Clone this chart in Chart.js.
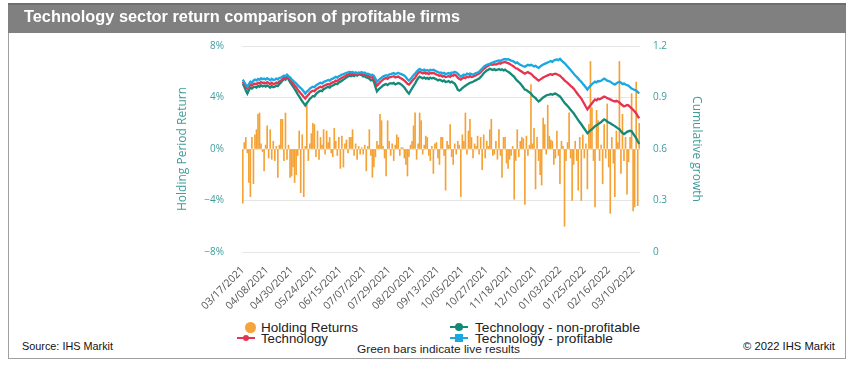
<!DOCTYPE html>
<html>
<head>
<meta charset="utf-8">
<script src="https://cdn.jsdelivr.net/npm/chart.js@4.4.1/dist/chart.umd.min.js"></script>
<style>
  body { margin: 0; width: 849px; height: 369px; background: #fff; position: relative; overflow: hidden;
         font-family: "Liberation Sans", Arial, sans-serif; }
  #frame { position: absolute; left: 8px; top: 3px; width: 838px; height: 356px; border: 1px solid #a0a0a0; box-sizing: border-box; }
  #head { position: absolute; left: 8px; top: 3px; width: 838px; height: 30px; background: #808080; border-top: 2px solid #6e6e6e; box-sizing: border-box; }
  .txt { position: absolute; white-space: nowrap; transform-origin: 0 50%; }
  #title { left: 24px; top: 8px; color: #fff; font: bold 16px/18px "Liberation Sans Narrow", "Liberation Sans", sans-serif; }
  #source { left: 22px; top: 340px; font: 11px/12px "Liberation Sans Narrow", "Liberation Sans", sans-serif; color: #111; }
  #copy { left: 743px; top: 340px; font: 11px/12px "Liberation Sans Narrow", "Liberation Sans", sans-serif; color: #111; }
  .leg { font: 13px/13px "Liberation Sans", Arial, sans-serif; color: #222; }
  #note { left: 357px; top: 343px; font: 11px/12px "Liberation Sans", Arial, sans-serif; color: #222; }
  .mk { position: absolute; }
  #wrap { position: absolute; left: 160px; top: 22px; width: 560px; height: 298px; }
</style>
</head>
<body>
<div id="frame"></div>
<div id="head"></div>

<div id="wrap"><canvas id="chart" width="560" height="298"></canvas></div>
<div class="txt" id="title" data-w="436">Technology sector return comparison of profitable firms</div>

<!-- legend -->
<div class="mk" style="left:245px;top:322px;width:11px;height:11px;border-radius:50%;background:#f5a33c"></div>
<div class="txt leg" style="left:261px;top:321px" data-w="97">Holding Returns</div>
<div class="mk" style="left:237px;top:337px;width:18px;height:2px;background:#e6334f"></div>
<div class="mk" style="left:243px;top:335px;width:6px;height:6px;border-radius:50%;background:#e6334f"></div>
<div class="txt leg" style="left:261px;top:332px" data-w="67">Technology</div>
<div class="mk" style="left:450px;top:326px;width:18px;height:2px;background:#138a78"></div>
<div class="mk" style="left:455px;top:323px;width:8px;height:8px;border-radius:50%;background:#138a78"></div>
<div class="txt leg" style="left:475px;top:321px" data-w="165">Technology - non-profitable</div>
<div class="mk" style="left:450px;top:337px;width:18px;height:2px;background:#1ba7e0"></div>
<div class="mk" style="left:455px;top:334px;width:8px;height:8px;background:#1ba7e0"></div>
<div class="txt leg" style="left:475px;top:332px" data-w="138">Technology - profitable</div>
<div class="txt" id="note" data-w="163">Green bars indicate live results</div>

<div class="txt" id="source" data-w="91">Source: IHS Markit</div>
<div class="txt" id="copy" data-w="92">© 2022 IHS Markit</div>

<script>
// x axis: trading days from 03/17/2021, a tick label every 16 days
const startDate = new Date(2021, 2, 17);
const dayCount = 261;
const tickLabels = ['03/17/2021', '04/08/2021', '04/30/2021', '05/24/2021', '06/15/2021', '07/07/2021',
  '07/29/2021', '08/20/2021', '09/13/2021', '10/05/2021', '10/27/2021', '11/18/2021', '12/10/2021',
  '01/03/2022', '01/25/2022', '02/16/2022', '03/10/2022'];
const tickEvery = 16;

// daily holding period return, %
const holdingReturns = [
  -4.2, 0.5, 0.9, -0.3, -2.6, -3.7, 0.9, -2.7, 1.1, 1.5, 2.7, 2.8, 0.4, -0.2, -1.7, 0.3, 1.8, -0.7, 1.5, -0.8,
  0.6, -0.9, 0.2, -2.2, 0.3, 2.3, 2.3, -0.9, 2.8, -0.8, 0.3, -2.2, -2.1, -1.4, -2.6, -2.0, -0.5, 1.4, -3.4, 1.1,
  -3.7, 0.2, 3.6, -0.9, 0.4, 1.2, 2.0, 1.9, -0.6, 1.4, -0.8, 0.9, 0.3, 1.5, -0.4, 1.4, 0.5, 0.9, -0.3, -0.6,
  1.6, 0.6, -0.5, 0.9, -1.5, 1.0, -1.4, 0.4, 0.7, -0.3, 0.9, 0.9, 1.5, -0.5, 0.4, -0.8, 0.2, -0.4, 0.1, -0.4,
  0.3, -1.7, 0.2, 1.5, -0.5, -2.2, -1.4, -0.6, 0.6, 0.3, 2.7, 2.2, 0.2, -0.7, -2.1, 2.2, 0.6, -0.5, 0.4, -0.9,
  0.3, 1.1, 0.9, -0.5, 0.1, 0.1, -0.7, -1.2, -2.1, -0.6, 0.3, 0.6, 1.8, 2.8, -0.8, 0.4, 2.8, 2.2, -0.4, 0.3,
  1.0, 0.9, -0.5, -0.9, 0.2, -1.9, 0.4, 0.5, -0.7, -1.2, 0.9, 0.9, -0.5, -3.2, 0.6, 0.3, 1.9, -0.6, -1.2, 0.4,
  -0.4, 0.6, 0.3, -3.7, 1.1, 0.6, 2.8, -0.4, 1.4, 2.3, 0.9, -0.7, 0.4, 0.2, 1.0, -0.4, 0.9, -1.6, 1.1, -0.7,
  0.6, 0.2, 1.5, 2.3, -0.5, -0.4, 0.6, -0.8, 1.5, -0.5, -2.2, 0.9, 0.9, -1.1, -1.5, -0.8, -0.5, 0.2, -3.9, -0.9,
  1.5, -0.6, 0.6, 0.9, 0.8, -4.3, 1.0, -0.5, 0.3, 5.0, 0.4, 1.6, -3.1, 0.9, -0.9, -2.0, -2.8, 2.4, 1.9, -0.4,
  3.4, 1.0, 0.7, 0.6, -1.2, -0.7, 1.4, -0.5, -2.7, 0.6, 0.2, -6.0, -0.9, 0.5, 2.8, -0.7, -4.0, -1.2, 0.6, -0.9,
  -3.2, 0.9, -4.0, 1.1, -0.7, 0.4, -3.1, 1.9, 6.8, 3.2, -0.9, -4.5, 3.0, 2.2, -0.9, 0.3, -2.7, 1.9, -0.7, 3.5,
  -1.4, -5.0, 0.9, -1.1, -3.7, 1.4, 0.5, 6.8, -1.9, 2.7, -0.9, 0.9, -3.5, -1.0, 0.9, 4.3, -4.8, -4.5, 5.2, -4.4,
  2.0
];

// cumulative growth, technology sector (all firms)
const techAll = [
  0.992, 0.978, 0.962, 0.952, 0.965, 0.975, 0.970, 0.978, 0.981, 0.978, 0.986, 0.981, 0.990, 0.984, 0.987,
  0.982, 0.989, 0.984, 0.977, 0.986, 0.979, 0.981, 0.987, 0.984, 0.993, 0.998, 1.008, 1.016, 1.012, 1.027,
  1.014, 1.004, 0.992, 0.981, 0.970, 0.960, 0.946, 0.935, 0.924, 0.914, 0.903, 0.894, 0.906, 0.915, 0.928, 0.935,
  0.940, 0.937, 0.947, 0.953, 0.958, 0.963, 0.959, 0.967, 0.971, 0.975, 0.979, 0.975, 0.984, 0.988, 0.992,
  0.998, 0.994, 1.004, 1.009, 1.015, 1.019, 1.024, 1.030, 1.034, 1.039,
  1.035, 1.040, 1.034, 1.039, 1.033, 1.040, 1.039, 1.042, 1.034, 1.036, 1.029, 1.027,
  1.022, 1.016, 1.019, 1.010, 0.990, 0.969, 0.978, 0.988, 0.996, 1.004, 1.010,
  1.014, 1.009, 1.017, 1.019, 1.021, 1.024, 1.017, 1.020, 1.022, 1.015, 1.011, 1.005, 0.998,
  0.990, 0.980, 0.975, 0.985, 0.996, 1.006, 1.015, 1.030, 1.042, 1.050,
  1.045, 1.040, 1.046, 1.039, 1.043, 1.037, 1.044, 1.040, 1.044, 1.039, 1.034, 1.030, 1.027,
  1.029, 1.022, 1.026, 1.019, 1.021, 1.025, 1.020, 1.029, 1.027, 1.033, 1.027, 1.015, 1.008, 1.004,
  1.011, 1.017, 1.013, 1.021, 1.018, 1.024, 1.019, 1.021, 1.026, 1.030, 1.035, 1.039,
  1.048, 1.057, 1.066, 1.073, 1.080, 1.085, 1.091, 1.093, 1.090, 1.094, 1.092, 1.096,
  1.100, 1.097, 1.103, 1.105, 1.108, 1.103, 1.100, 1.096, 1.090, 1.085, 1.079,
  1.070, 1.068, 1.062, 1.056, 1.050, 1.044, 1.039, 1.044, 1.048, 1.042, 1.039,
  1.030, 1.020, 1.014, 1.005, 0.998, 1.004, 1.010, 1.016, 1.021, 1.025, 1.029, 1.033,
  1.036, 1.032, 1.037, 1.039, 1.035, 1.031, 1.027, 1.018, 1.010, 1.000, 0.992,
  0.985, 0.977, 0.968, 0.960, 0.952, 0.940, 0.928, 0.916, 0.905, 0.894,
  0.878, 0.862, 0.846, 0.831, 0.843, 0.855, 0.866, 0.878, 0.889,
  0.884, 0.892, 0.890, 0.894, 0.900, 0.906, 0.902, 0.896, 0.893, 0.889,
  0.884, 0.880, 0.877, 0.881, 0.876, 0.871, 0.862, 0.855, 0.848, 0.852, 0.856, 0.854,
  0.845, 0.837, 0.828, 0.818, 0.808, 0.792, 0.779
];

// cumulative growth, non-profitable technology firms
const techNonProfitable = [
  0.981, 0.962, 0.940, 0.923, 0.942, 0.958, 0.952, 0.960, 0.963, 0.958, 0.967, 0.962, 0.971, 0.965, 0.969,
  0.963, 0.970, 0.965, 0.957, 0.967, 0.960, 0.963, 0.970, 0.966, 0.978, 0.987, 0.998, 1.008, 1.004, 1.021,
  1.005, 0.990, 0.976, 0.963, 0.950, 0.936, 0.920, 0.906, 0.892, 0.878, 0.866, 0.854, 0.868, 0.879, 0.892, 0.900,
  0.909, 0.906, 0.920, 0.928, 0.935, 0.940, 0.937, 0.948, 0.953, 0.958, 0.962, 0.958, 0.966, 0.970, 0.975,
  0.980, 0.977, 0.987, 0.992, 0.998, 1.004, 1.010, 1.017, 1.022, 1.027,
  1.024, 1.030, 1.025, 1.032, 1.027, 1.034, 1.033, 1.030, 1.022, 1.025, 1.017, 1.015,
  1.009, 1.000, 1.004, 0.992, 0.962, 0.935, 0.946, 0.955, 0.962, 0.970, 0.975,
  0.978, 0.972, 0.980, 0.983, 0.981, 0.985, 0.976, 0.980, 0.984, 0.981, 0.975, 0.967, 0.958,
  0.945, 0.932, 0.923, 0.938, 0.953, 0.968, 0.981, 0.998, 1.012, 1.021,
  1.016, 1.011, 1.017, 1.010, 1.014, 1.008, 1.016, 1.011, 1.015, 1.010, 1.006, 1.000, 1.004,
  1.000, 0.994, 0.999, 0.990, 0.992, 0.996, 0.988, 0.993, 0.986, 0.981, 0.965, 0.946, 0.940, 0.946,
  0.955, 0.962, 0.968, 0.975, 0.980, 0.986, 0.988, 0.992, 0.997, 1.001, 1.006, 1.010,
  1.020, 1.030, 1.041, 1.050, 1.057, 1.062, 1.067, 1.064, 1.060, 1.065, 1.059, 1.062,
  1.066, 1.060, 1.064, 1.058, 1.062, 1.055, 1.050, 1.044, 1.036, 1.028, 1.021,
  1.008, 0.998, 0.990, 0.981, 0.970, 0.958, 0.946, 0.944, 0.936, 0.930, 0.923,
  0.912, 0.903, 0.896, 0.885, 0.877, 0.884, 0.892, 0.900, 0.906, 0.912, 0.916, 0.917,
  0.920, 0.916, 0.921, 0.923, 0.918, 0.912, 0.906, 0.895, 0.882, 0.870, 0.860,
  0.850, 0.840, 0.829, 0.818, 0.808, 0.795, 0.781, 0.768, 0.756, 0.744,
  0.731, 0.718, 0.705, 0.692, 0.700, 0.708, 0.715, 0.724, 0.733,
  0.738, 0.745, 0.750, 0.756, 0.765, 0.773, 0.768, 0.760, 0.755, 0.750,
  0.744, 0.739, 0.733, 0.727, 0.720, 0.715, 0.704, 0.694, 0.687, 0.693, 0.700, 0.704,
  0.706, 0.704, 0.690, 0.676, 0.663, 0.645, 0.629
];

// cumulative growth, profitable technology firms
const techProfitable = [
  1.004, 0.990, 0.975, 0.963, 0.978, 0.992, 0.985, 0.998, 1.004, 1.000, 1.008, 1.003, 1.012, 1.006, 1.010,
  1.004, 1.012, 1.007, 1.000, 1.009, 1.002, 1.004, 1.010, 1.006, 1.014, 1.015, 1.022, 1.028, 1.024, 1.033,
  1.025, 1.018, 1.006, 0.998, 0.990, 0.982, 0.972, 0.963, 0.955, 0.946, 0.935, 0.923, 0.934, 0.941, 0.952, 0.958,
  0.963, 0.960, 0.970, 0.976, 0.981, 0.986, 0.982, 0.990, 0.994, 0.998, 1.002, 0.998, 1.006, 1.010, 1.015,
  1.020, 1.016, 1.024, 1.028, 1.033, 1.036, 1.040, 1.044, 1.046, 1.050,
  1.046, 1.049, 1.043, 1.047, 1.041, 1.046, 1.044, 1.048, 1.042, 1.045, 1.038, 1.039,
  1.035, 1.030, 1.033, 1.027, 1.010, 0.992, 1.000, 1.008, 1.015, 1.022, 1.027,
  1.030, 1.026, 1.034, 1.036, 1.039, 1.042, 1.036, 1.040, 1.044, 1.039, 1.036, 1.032, 1.027,
  1.018, 1.006, 0.998, 1.008, 1.018, 1.030, 1.039, 1.050, 1.060, 1.067,
  1.062, 1.058, 1.063, 1.056, 1.060, 1.055, 1.061, 1.058, 1.062, 1.057, 1.052, 1.048, 1.044,
  1.046, 1.040, 1.044, 1.037, 1.039, 1.043, 1.038, 1.046, 1.044, 1.050, 1.046, 1.039, 1.030, 1.021,
  1.028, 1.034, 1.030, 1.039, 1.035, 1.040, 1.036, 1.033, 1.038, 1.042, 1.046, 1.050,
  1.060, 1.068, 1.078, 1.085, 1.090, 1.093, 1.096, 1.100, 1.104, 1.108, 1.110, 1.114,
  1.116, 1.112, 1.119, 1.122, 1.125, 1.121, 1.124, 1.119, 1.115, 1.112, 1.108,
  1.100, 1.104, 1.096, 1.091, 1.086, 1.082, 1.079, 1.085, 1.091, 1.087, 1.091,
  1.086, 1.081, 1.084, 1.077, 1.073, 1.080, 1.086, 1.092, 1.096, 1.100, 1.104, 1.108,
  1.112, 1.108, 1.116, 1.119, 1.122, 1.118, 1.125, 1.116, 1.108, 1.100, 1.091,
  1.080, 1.070, 1.060, 1.050, 1.039, 1.028, 1.020, 1.010, 1.000, 0.992,
  0.980, 0.970, 0.958, 0.946, 0.958, 0.969, 0.978, 0.985, 0.992,
  0.988, 0.996, 0.994, 0.998, 1.004, 1.010, 1.005, 0.998, 0.996, 0.992,
  0.985, 0.980, 0.975, 0.982, 0.988, 0.992, 0.986, 0.978, 0.981, 0.976, 0.972, 0.969,
  0.960, 0.952, 0.948, 0.944, 0.941, 0.932, 0.923
];

const teal = '#3f9c9c';

const pad = (n) => String(n).padStart(2, '0');
const tradingDays = [];
for (let d = new Date(startDate); tradingDays.length < dayCount; d.setDate(d.getDate() + 1)) {
  if (d.getDay() === 0 || d.getDay() === 6) continue;
  tradingDays.push(pad(d.getMonth() + 1) + '/' + pad(d.getDate()) + '/' + d.getFullYear());
}

const lineStyle = { type: 'line', yAxisID: 'yR', borderWidth: 2.3, pointRadius: 0, tension: 0, fill: false };

new Chart(document.getElementById('chart'), {
  type: 'bar',
  data: {
    labels: tradingDays,
    datasets: [
      { label: 'Holding Returns', data: holdingReturns, yAxisID: 'yL', backgroundColor: '#f4a236',
        barThickness: 1, order: 4 },
      { ...lineStyle, label: 'Technology - non-profitable', data: techNonProfitable, borderColor: '#138a78', order: 3 },
      { ...lineStyle, label: 'Technology', data: techAll, borderColor: '#e6334f', order: 2 },
      { ...lineStyle, label: 'Technology - profitable', data: techProfitable, borderColor: '#1ba7e0', order: 1 }
    ]
  },
  options: {
    responsive: false,
    animation: false,
    devicePixelRatio: 1,
    layout: { padding: { top: 0 } },
    plugins: { legend: { display: false }, tooltip: { enabled: false } },
    scales: {
      x: {
        offset: true,
        grid: { display: false },
        border: { display: false },
        ticks: {
          autoSkip: false, minRotation: 45, maxRotation: 45, padding: 4, color: '#555',
          font: { family: 'Open Sans', size: 10.5 },
          callback: (v, i) => (i % tickEvery === 0 ? tickLabels[i / tickEvery] : '')
        },
        afterFit: (s) => { s.height = 68; }
      },
      yL: {
        position: 'left', min: -8, max: 8,
        grid: { color: '#e6e6e6', drawTicks: false },
        border: { display: false },
        ticks: {
          stepSize: 4, padding: 18, color: teal, font: { family: 'Open Sans', size: 10 },
          callback: (v) => (v < 0 ? '\u2212' : '') + Math.abs(v) + '%'
        },
        title: { display: true, text: 'Holding Period Return', color: teal,
                 font: { family: 'Open Sans', size: 12 }, padding: { top: 15, bottom: 0 } },
        afterFit: (s) => { s.width = 82; }
      },
      yR: {
        position: 'right', min: 0, max: 1.2,
        grid: { display: false, drawTicks: false },
        border: { display: false },
        ticks: {
          stepSize: 0.3, padding: 13, color: teal, font: { family: 'Open Sans', size: 10 },
          callback: (v) => (Math.abs(v) < 1e-9 ? '0' : v.toFixed(1))
        },
        title: { display: true, text: 'Cumulative growth', color: teal,
                 font: { family: 'Open Sans', size: 12 }, padding: { top: 16, bottom: 0 } },
        afterFit: (s) => { s.width = 80; }
      }
    }
  }
});

// squeeze or stretch the html texts to the widths measured on the reference
document.querySelectorAll('[data-w]').forEach((el) => {
  const w = el.getBoundingClientRect().width;
  el.style.transform = 'scaleX(' + (el.dataset.w / w) + ')';
});
</script>
</body>
</html>
